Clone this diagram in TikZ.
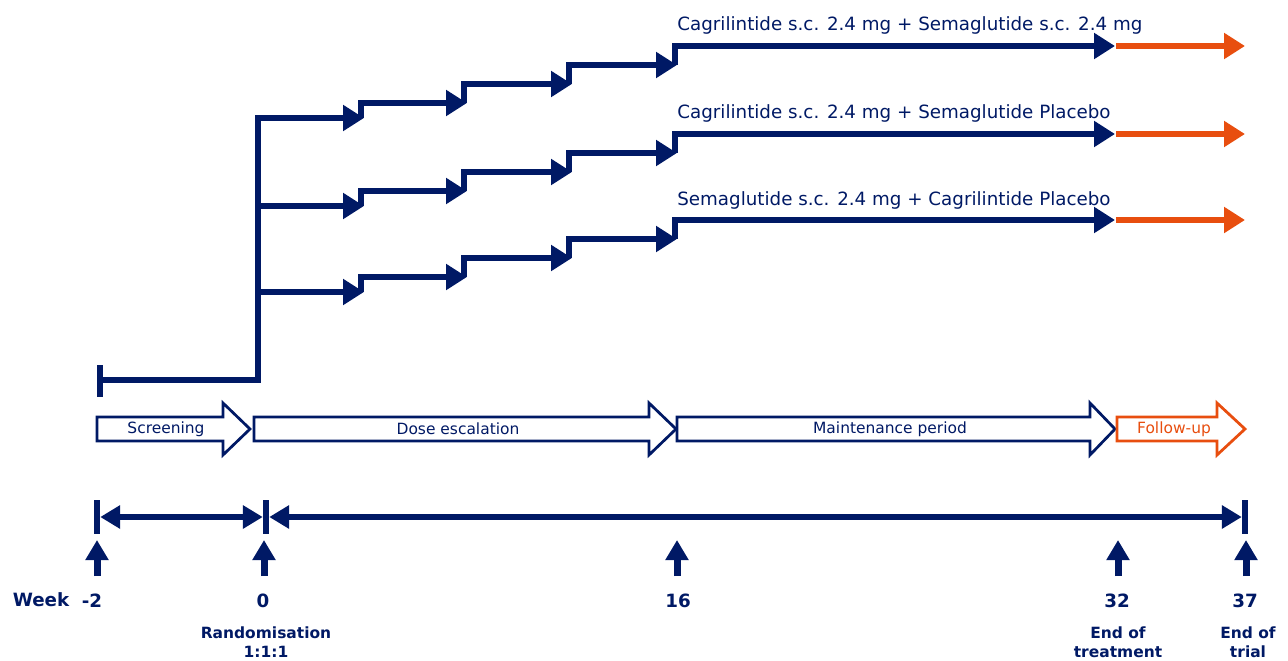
\documentclass[tikz,border=0pt]{standalone}
\usepackage{fontspec}
\setmainfont{DejaVu Sans}
\usetikzlibrary{arrows.meta}
\definecolor{navy}{HTML}{001965}
\definecolor{followup}{HTML}{E84E0F}

\tikzset{
  trunk/.style={draw=navy,line width=0.12cm,line cap=rect,line join=miter},
  stair/.style={draw=navy,line width=0.12cm,line join=miter,-{Triangle[length=0.42cm,width=0.5cm]}},
  fu/.style={stair,draw=followup,fill=followup},
  phase/.style={line width=0.055cm,line join=miter,fill=white},
  phasetext/.style={font=\fontsize{8.8}{10}\selectfont,inner sep=0},
  armlabel/.style={anchor=base west,text=navy,inner sep=0,font=\fontsize{10.4}{12}\selectfont},
  tick/.style={draw=navy,line width=0.13cm},
  span/.style={draw=navy,line width=0.13cm,{Triangle[length=0.4cm,width=0.45cm]}-{Triangle[length=0.4cm,width=0.45cm]},shorten <=0.065cm,shorten >=0.065cm},
  upar/.style={draw=navy,line width=0.14cm,-{Triangle[length=0.4cm,width=0.44cm]}},
  weeklbl/.style={text=navy,inner sep=0,font=\fontsize{10.4}{12}\selectfont\bfseries},
  eventlbl/.style={text=navy,inner sep=0,align=center,font=\fontsize{8.8}{10.8}\selectfont\bfseries}
}

\begin{document}
\begin{tikzpicture}[x=0.02cm,y=-0.02cm]
  \useasboundingbox (0,0) rectangle (1288,660);

  % screening and randomisation
  \draw[tick,line width=0.12cm] (100,365) -- (100,397);
  \draw[trunk] (100,380) -| (258,118);

  % dose steps, one row per arm
  \foreach \yy in {118,206,292} {
    \draw[stair] (258,\yy) -- (364,\yy);
    \draw[stair] (361,\yy) |- (467,\yy-15);
    \draw[stair] (464,\yy-15) |- (572,\yy-34);
    \draw[stair] (569,\yy-34) |- (677,\yy-53);
    \draw[stair] (675,\yy-53) |- (1115,\yy-72);
    \draw[fu] (1116,\yy-72) -- (1245,\yy-72);
  }

  \node[armlabel] (arm1) at (677,30)  {Cagrilintide s.c. 2.4 mg + Semaglutide s.c. 2.4 mg};
  \node[armlabel] (arm2) at (677,118) {Cagrilintide s.c. 2.4 mg + Semaglutide Placebo};
  \node[armlabel] (arm3) at (677,205) {Semaglutide s.c. 2.4 mg + Cagrilintide Placebo};

  % periods
  \foreach \xa/\xb/\xc/\col/\txt/\xm in {97/223/250/navy/Screening/166,
      254/649/676/navy/Dose escalation/458,
      677/1090/1115/navy/Maintenance period/890,
      1117/1217/1245/followup/Follow-up/1174} {
    \draw[phase,draw=\col] (\xa,417) -- (\xb,417) -- (\xb,403) -- (\xc,429)
      -- (\xb,455) -- (\xb,441) -- (\xa,441) -- cycle;
    \node[phasetext,text=\col] at (\xm,429) {\txt};
  }

  % time line
  \coordinate (wk-2) at (97,517);
  \coordinate (wk0)  at (266,517);
  \coordinate (wk37) at (1245,517);
  \foreach \c in {wk-2,wk0,wk37}
    \draw[tick] ([yshift=0.34cm]\c) -- ([yshift=-0.34cm]\c);
  \draw[span] (wk-2) -- (wk0);
  \draw[span] (wk0) -- (wk37);

  \foreach \x/\wk/\xl in {97/-2/92,264/0/263,677/16/678,1118/32/1117,1246/37/1245} {
    \coordinate (up\wk) at (\x,576);
    \draw[upar] (up\wk) -- ++(0,-36);
    \node[weeklbl] (lbl\wk) at (\xl,601) {\wk};
  }
  \node[weeklbl] (week) at (41,600) {Week};

  \node[eventlbl] (rand) at (266,642) {Randomisation\\1:1:1};
  \node[eventlbl] (eot)  at (1118,642) {End of\\treatment};
  \node[eventlbl] (eotr) at (1248,642) {End of\\trial};
\end{tikzpicture}
\end{document}
